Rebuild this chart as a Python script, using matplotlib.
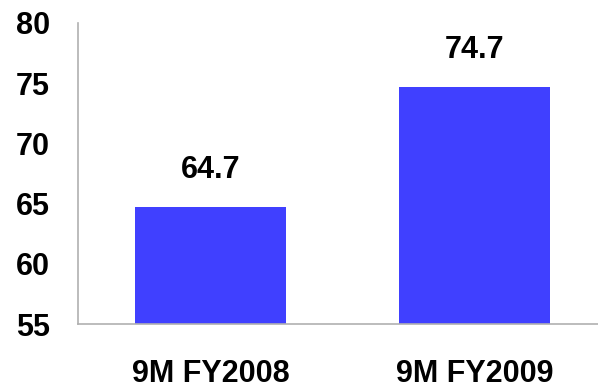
import matplotlib
matplotlib.use("Agg")
import matplotlib.pyplot as plt

categories = ["9M FY2008", "9M FY2009"]
values = [64.7, 74.7]
yticks = [55, 60, 65, 70, 75, 80]

plt.rcParams["font.family"] = ["Liberation Sans", "DejaVu Sans"]
plt.rcParams["font.weight"] = "bold"

fig = plt.figure(figsize=(5.98, 3.91), dpi=100)
ax = fig.add_axes([78 / 598, 1 - 324 / 391, 1 - 78 / 598, (324 - 23) / 391])

x = list(range(len(categories)))
ax.bar(x, values, width=0.572, color="#4040FF")

ax.set_ylim(55, 80)
ax.set_xlim(-0.502, 1.468)
ax.set_yticks(yticks)
ax.set_yticklabels([str(t) for t in yticks], fontsize=22, fontweight="bold")
ax.set_xticks(x)
ax.set_xticklabels(categories, fontsize=22, fontweight="bold")
ax.tick_params(axis="y", length=0, pad=20)
ax.tick_params(axis="x", length=0, pad=25)

for s in ["top", "right"]:
    ax.spines[s].set_visible(False)
for s in ["left", "bottom"]:
    ax.spines[s].set_color("#b0b0b0")
    ax.spines[s].set_linewidth(1.2)

for xi, v in zip(x, values):
    ax.annotate(f"{v:.1f}", xy=(xi, v), xytext=(0, 16), textcoords="offset points",
                ha="center", va="bottom", fontsize=22, fontweight="bold")

fig.savefig("out.png", dpi=100)
